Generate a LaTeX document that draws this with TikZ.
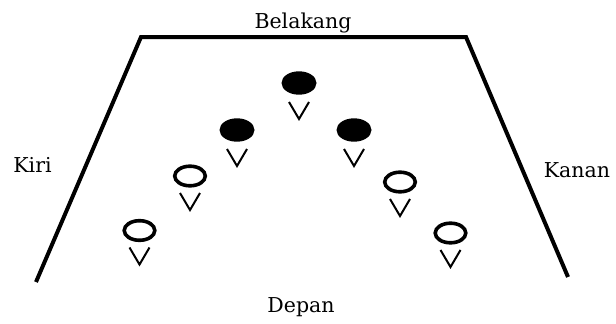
\documentclass[tikz,border=0pt]{standalone}
\usepackage{fontspec}
\setmainfont{DejaVu Serif}
\begin{document}
\begin{tikzpicture}[x=1pt,y=-1pt,
  court/.style={line width=4pt,line join=miter},
  player/.style={line width=3.6pt},
  vmark/.style={line width=2pt},
  lbl/.style={font=\fontsize{20.5}{24}\selectfont,inner sep=0pt,anchor=base}]
\useasboundingbox (0,0) rectangle (616,324);
\coordinate (bl) at (36,282);
\coordinate (tl) at (141,37);
\coordinate (tr) at (466,37);
\coordinate (br) at (568,277);
\draw[court] (bl) -- (tl) -- (tr) -- (br);
\node[lbl] (belakang) at (303,28) {Belakang};
\node[lbl] (kiri) at (32.5,172) {Kiri};
\node[lbl] (kanan) at (577,177) {Kanan};
\node[lbl] (depan) at (301,312) {Depan};
% filled players
\foreach \x/\y in {299/83, 237/130, 354/130}{
  \fill (\x,\y) ellipse [x radius=17.5, y radius=11.7];
  \draw[vmark] (\x-10,\y+19) -- (\x,\y+36) -- (\x+10,\y+19);
}
% open players
\foreach \x/\y in {190/176, 139.5/230.5, 400/182, 450.5/233}{
  \draw[player] (\x,\y) ellipse [x radius=15.3, y radius=9.8];
  \draw[vmark] (\x-10,\y+17) -- (\x,\y+34) -- (\x+10,\y+17);
}
\end{tikzpicture}
\end{document}
